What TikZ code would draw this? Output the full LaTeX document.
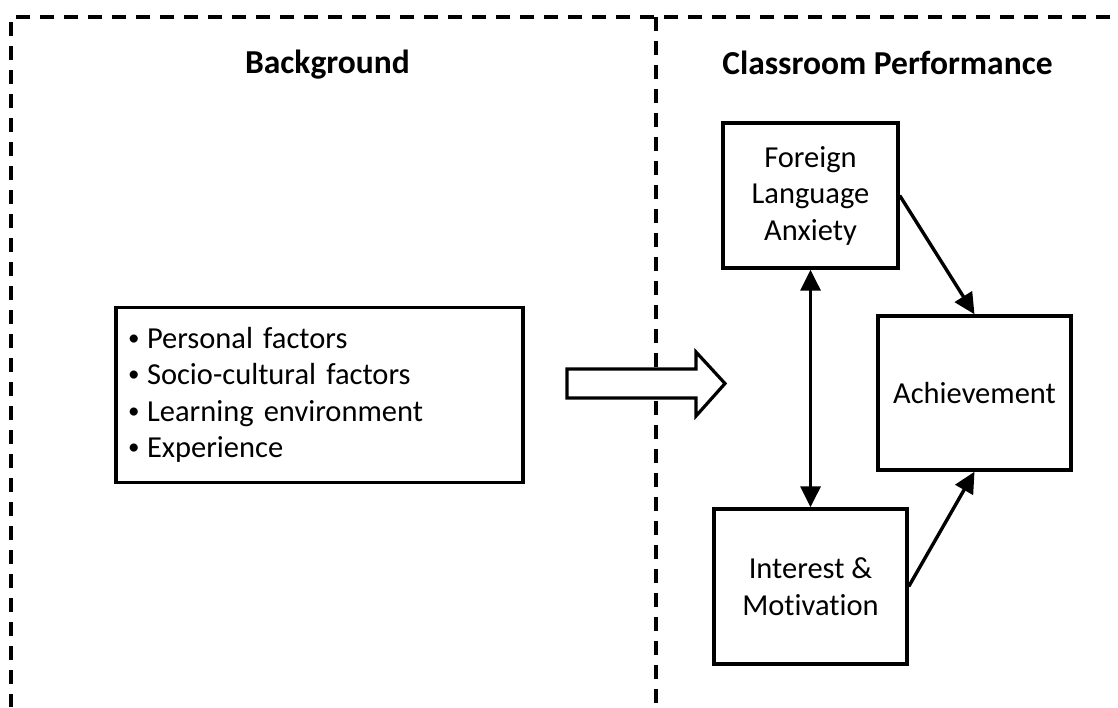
\documentclass[tikz,border=0pt]{standalone}
\usepackage{fontspec}
\setmainfont[Ligatures=NoCommon]{Carlito}
\usetikzlibrary{arrows.meta}
\newcommand{\mybul}{\makebox[19pt][l]{\raisebox{3pt}{\fontsize{23}{23}\selectfont •}}}
\tikzset{
  frame/.style={line width=3.2pt, dash pattern=on 13.5pt off 10.5pt},
  box/.style={draw, line width=3.4pt, rectangle, align=center, inner sep=0pt,
              font=\fontsize{30.5}{36.5}\selectfont},
  title/.style={font=\fontsize{33.5}{40}\selectfont\bfseries, anchor=base},
  conn/.style={line width=3.4pt, -{Triangle[length=21pt,width=20pt]}},
  dconn/.style={line width=3.4pt, {Triangle[length=21pt,width=20pt]}-{Triangle[length=21pt,width=20pt]}},
}
\begin{document}
\begin{tikzpicture}[x=1pt, y=-1pt]
\useasboundingbox (0,0) rectangle (1118,707);
% dashed frame
\coordinate (tl) at (16,17);
\coordinate (tr) at (1118,17);
\coordinate (lt) at (11,22);
\coordinate (lb) at (11,707);
\coordinate (mt) at (656,17);
\coordinate (mb) at (656,707);
\draw[frame] (tl) -- (tr);
\draw[frame] (lt) -- (lb);
\draw[frame] (mt) -- (mb);
% titles
\node[title] (tbg) at (327.5,73) {Background};
\node[title] (tcp) at (887.5,74) {Classroom Performance};
% background box
\node[box, align=left, text width=383pt, inner xsep=12pt, minimum height=175pt] (bg) at (319.5,395)
  {\mybul Personal factors\\
   \mybul Socio-cultural factors\\
   \mybul Learning environment\\
   \mybul Experience};
% block arrow
\draw[line width=3.2pt, fill=white, line join=miter]
  (567,369) -- (696,369) -- (696,352) -- (725,383.5) -- (696,416) -- (696,398) -- (567,398) -- cycle;
% right side boxes
\node[box, minimum width=175pt, minimum height=145pt] (fla) at (810.5,195.5) {Foreign\\Language\\Anxiety};
\node[box, minimum width=193pt, minimum height=154pt] (ach) at (974.5,393) {Achievement};
\node[box, minimum width=193pt, minimum height=155pt] (im) at (810.5,586.5) {Interest \&\\Motivation};
% connectors
\draw[dconn] (fla.south) -- (im.north);
\draw[conn] (fla.east) -- (ach.north);
\draw[conn] (im.east) -- (ach.south);
\end{tikzpicture}
\end{document}
